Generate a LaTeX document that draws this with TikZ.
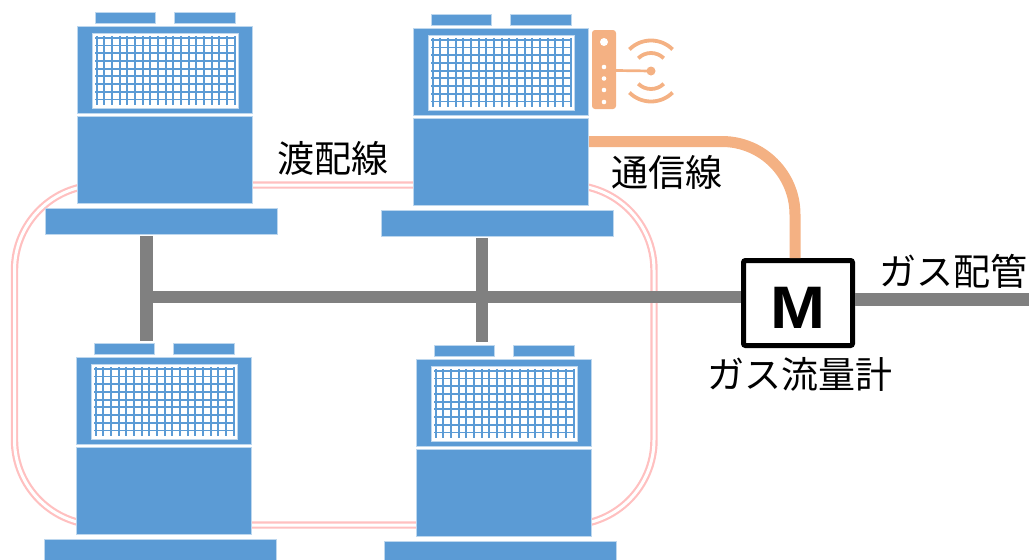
\documentclass[tikz,border=0pt]{standalone}
\usepackage{fontspec}
\newfontfamily\jpfont{Noto Sans CJK JP}
\newfontfamily\latinfont{Liberation Sans}
\definecolor{unitblue}{RGB}{91,155,213}
\definecolor{unitedge}{RGB}{189,215,238}
\definecolor{cablepink}{RGB}{255,192,192}
\definecolor{commorange}{RGB}{244,177,131}
\definecolor{pipegray}{RGB}{128,128,128}

\tikzset{
  unitpart/.style={fill=unitblue, draw=unitedge, line width=0.8pt},
  fangrid/.style={draw=unitblue, line width=1.8pt},
  % outdoor unit, origin at the top-left corner of the upper casing
  pics/outdoor/.style={code={
    \path[unitpart] (18,-13.5) rectangle (78.5,-2.5);
    \path[unitpart] (97.5,-13.5) rectangle (158,-2.5);
    \path[unitpart] (0,0) rectangle (175,87);
    \path[fill=white, draw=unitedge, line width=0.8pt] (15,7.5) rectangle (161,82);
    \foreach \i in {0,...,18} \draw[fangrid] (19.7+7.667*\i,9.8) -- ++(0,69.4);
    \foreach \j in {0,...,8} \draw[fangrid] (18,11.8+7.7*\j) -- ++(141,0);
    \path[unitpart] (0,90) rectangle (175,177);
    \path[unitpart] (-31.5,182) rectangle (200.5,208);
  }},
  linkcable/.style={draw=cablepink, line width=2.2pt, double=white, double distance=3pt},
  gaspipe/.style={draw=pipegray, line width=12.5pt},
  commline/.style={draw=commorange, line width=11pt},
  wave/.style={draw=commorange, line width=3.8pt},
  jptext/.style={font=\jpfont\fontsize{37pt}{40pt}\selectfont, inner sep=0pt},
  meterbox/.style={draw=black, line width=5pt, fill=white, rounded corners=2pt,
                   minimum width=109pt, minimum height=85pt, inner sep=0pt},
}

\begin{document}
\begin{tikzpicture}[x=1pt, y=-1pt]
\useasboundingbox (0,0) rectangle (1029,560);
\clip (0,0) rectangle (1029,560);

% crossover wiring loop around the four units
\draw[linkcable, rounded corners=85pt] (14.5,185) rectangle (654,525);

% gas meter
\node[meterbox] (meter) at (798,303) {};
\node[inner sep=0pt, font=\latinfont\bfseries\fontsize{60pt}{60pt}\selectfont, xscale=1.1]
  (meterM) at (797.5,307.5) {M};

% gas piping
\coordinate (tapA) at (146.5,236);
\coordinate (tapAend) at (146.5,341);
\coordinate (tapB) at (482,238);
\coordinate (tapBend) at (482,342);
\coordinate (mainrun) at (146.5,297);
\coordinate (outlet) at (1029,299.5);
\draw[gaspipe] (tapA) -- (tapAend);
\draw[gaspipe] (tapB) -- (tapBend);
\draw[gaspipe] (mainrun) -- (mainrun -| meter.west);
\draw[gaspipe] (outlet -| meter.east) -- (outlet);

% outdoor units
\pic (unitA) at (77,26) {outdoor};
\pic (unitB) at (413,28) {outdoor};
\pic (unitC) at (76,357) {outdoor};
\pic (unitD) at (416,359) {outdoor};

% communication line from the adapter to the meter
\coordinate (commstart) at (589,141.5);
\coordinate (commcorner) at (795,141.5);
\draw[commline, rounded corners=73pt] (commstart) -- (commcorner) -- (commcorner |- meter.north);

% wireless adapter
\fill[commorange, rounded corners=3pt] (592,30) rectangle (616,109);
\fill[white] (604,42) circle (4pt);
\foreach \yy in {67,78.5,90,102} \fill[white] (604,\yy) circle (2.3pt);
\coordinate (antenna) at (651,71);
\draw[commorange, line width=2.7pt] (616,70.5) -- (antenna);
\fill[commorange] (antenna) circle (4.5pt);
\foreach \r in {18,30.5} {
  \draw[wave] (antenna) ++(45:\r) arc[start angle=45, end angle=135, radius=\r];
  \draw[wave] (antenna) ++(225:\r) arc[start angle=225, end angle=315, radius=\r];
}

% labels
\node[jptext] (lblLink) at (333,158) {渡配線};
\node[jptext] (lblComm) at (667,172) {通信線};
\node[jptext] (lblPipe) at (953,271) {ガス配管};
\node[jptext] (lblMeter) at (800,374) {ガス流量計};
\end{tikzpicture}
\end{document}
